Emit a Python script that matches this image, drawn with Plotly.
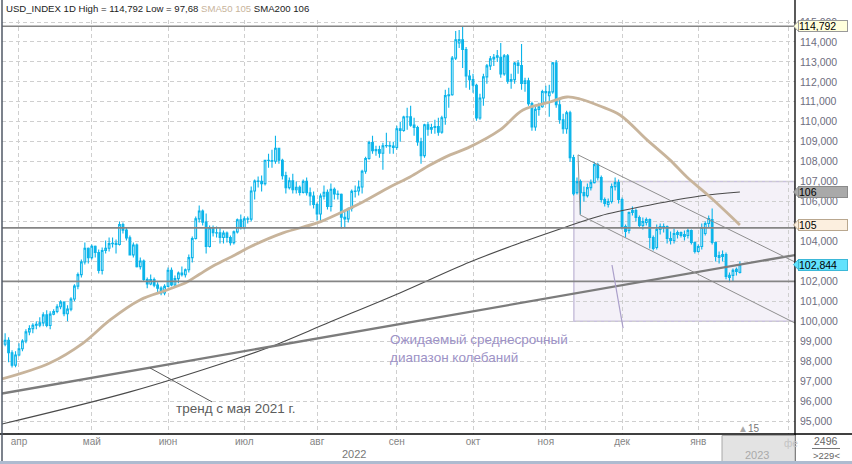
import plotly.graph_objects as go
import pandas as pd

# ---------------- data (USD_INDEX, daily) ----------------
open_ = [
    98.85, 99.05, 98.42, 97.80,
    98.31, 98.62, 99.01, 99.47, 99.63, 99.85, 99.80, 99.92, 100.32, 99.79, 100.36, 100.49, 100.73, 100.96, 100.38, 100.61, 101.12, 101.76, 102.34, 102.97, 103.66,
    103.19, 103.76, 103.45, 102.55, 103.55, 103.66, 103.89, 103.91, 103.85, 104.85, 104.57, 104.18, 103.33, 103.82, 102.74, 103.02, 102.09, 101.87, 102.09, 101.81, 101.66, 101.42,
    101.75, 102.56, 101.82, 102.14, 102.42, 102.33, 102.58, 103.19, 104.15, 105.13, 105.53, 104.97, 103.75, 104.68, 104.44, 104.43, 104.20, 104.42, 104.20, 103.94, 104.48, 105.09,
    104.69, 105.13, 105.12, 106.53, 107.03, 107.01, 106.90, 108.07, 108.06, 108.02, 108.67, 108.07, 107.30, 106.70, 107.04, 106.59, 106.72, 106.46, 107.01, 106.44, 106.28,
    105.85, 105.38, 106.27, 106.47, 105.75, 106.62, 106.38, 106.36, 105.21, 105.13, 105.65, 106.51, 106.53, 106.73, 107.52, 108.16, 108.96, 108.55, 108.61, 108.42, 108.80, 108.81, 108.78,
    108.71, 109.65, 109.56, 110.24, 110.25, 109.83, 109.71, 108.99, 108.30, 109.85, 109.63, 109.71, 109.76, 109.48, 110.20, 111.31, 111.35, 113.19, 113.95, 114.11, 113.62, 112.29,
    112.11, 111.83, 110.19, 111.19, 112.25, 112.80, 113.15, 113.30, 113.23, 112.40, 113.31, 112.03, 112.11, 112.94, 112.82, 111.92, 112.05, 110.91, 109.74, 110.62, 110.75,
    111.52, 111.30, 111.50, 112.95, 110.85, 110.10, 109.65, 110.45, 108.20, 106.45, 107.00, 106.45, 106.30, 106.70, 106.95, 107.85, 107.20, 106.10, 105.85, 106.00, 106.75, 106.95,
    106.10, 104.75, 104.55, 105.45, 105.55, 105.20, 104.80, 104.95, 105.10, 104.20, 103.70, 104.60, 104.70, 104.75, 104.15, 104.05, 104.35, 104.45, 104.25, 104.30, 104.55, 103.95,
    103.50, 103.75, 104.40, 104.90, 105.10, 103.95, 103.20, 103.25, 103.35, 102.20, 102.30, 102.50, 102.45,
]
high = [
    99.40, 99.20, 98.55, 98.50,
    98.90, 99.10, 99.60, 99.80, 99.90, 100.00, 100.20, 100.45, 100.55, 100.50, 100.60, 100.85, 101.05, 101.00, 100.80, 101.20, 101.85, 102.45, 103.10, 103.95, 103.70,
    103.85, 103.80, 103.60, 103.70, 104.05, 104.20, 104.20, 104.10, 105.00, 104.95, 104.70, 104.30, 103.95, 103.90, 103.20, 103.10, 102.20, 102.35, 102.20, 101.95, 101.75, 101.85,
    102.70, 102.70, 102.30, 102.50, 102.75, 102.65, 103.35, 104.25, 105.25, 105.80, 105.60, 105.40, 104.80, 104.80, 104.75, 104.70, 104.55, 104.50, 104.30, 104.55, 105.15, 105.35,
    105.25, 105.25, 106.75, 107.10, 107.25, 107.30, 108.10, 108.40, 108.60, 109.30, 108.70, 108.15, 107.50, 107.20, 107.40, 107.00, 106.80, 107.10, 107.20, 106.70, 106.50,
    105.95, 106.40, 106.80, 106.60, 106.90, 106.70, 106.55, 106.40, 105.50, 105.70, 106.60, 106.80, 107.05, 107.60, 108.25, 109.05, 109.30, 108.80, 108.80, 108.95, 109.45, 109.00, 109.00,
    109.80, 110.00, 110.30, 110.70, 110.80, 110.20, 109.80, 109.20, 109.90, 110.00, 109.90, 110.10, 110.20, 110.30, 111.60, 111.70, 113.30, 114.55, 114.60, 114.79, 113.75, 112.60,
    112.40, 111.90, 111.40, 112.40, 112.90, 113.30, 113.40, 113.60, 113.95, 113.40, 113.40, 112.40, 113.00, 113.10, 113.90, 112.20, 112.20, 111.00, 110.80, 110.95, 111.60,
    111.80, 111.85, 113.00, 113.10, 111.10, 110.40, 110.55, 110.55, 108.35, 107.20, 107.10, 106.75, 106.90, 107.10, 108.00, 107.95, 107.30, 106.20, 106.15, 106.90, 107.20, 107.10,
    106.20, 104.85, 105.50, 105.75, 105.65, 105.30, 105.20, 105.20, 105.15, 104.30, 104.85, 104.90, 104.90, 104.80, 104.50, 104.65, 104.55, 104.50, 104.55, 104.65, 104.60, 104.00,
    103.85, 104.90, 105.00, 105.30, 105.65, 104.00, 103.50, 103.55, 103.45, 102.45, 102.65, 102.70, 103.00,
]
low = [
    98.75, 97.95, 97.68, 97.70,
    98.25, 98.50, 98.90, 99.30, 99.40, 99.60, 99.70, 99.75, 99.70, 99.60, 100.30, 100.40, 100.60, 100.25, 100.00, 100.50, 101.00, 101.60, 102.20, 102.85, 102.90,
    103.10, 103.20, 102.40, 102.35, 103.40, 103.50, 103.70, 103.40, 103.80, 104.40, 104.05, 103.30, 103.20, 102.70, 102.60, 102.00, 101.65, 101.80, 101.70, 101.40, 101.30, 101.30,
    101.70, 101.75, 101.70, 101.90, 102.25, 102.20, 102.45, 102.95, 104.10, 104.95, 104.80, 103.40, 103.70, 104.25, 104.20, 103.90, 103.90, 103.95, 103.80, 103.85, 104.40, 104.60,
    104.60, 104.90, 105.00, 106.10, 106.70, 106.50, 106.80, 107.70, 107.70, 107.90, 107.90, 107.10, 106.40, 106.60, 106.40, 106.40, 106.30, 106.40, 106.30, 105.80, 105.65,
    105.05, 105.00, 106.10, 105.60, 105.50, 106.10, 106.10, 104.65, 104.70, 104.95, 105.50, 106.20, 106.30, 106.40, 107.40, 108.10, 108.40, 108.30, 108.20, 107.60, 108.70, 108.40, 108.40,
    108.60, 109.00, 109.50, 109.60, 109.75, 109.30, 108.80, 107.90, 108.20, 109.30, 109.40, 109.40, 109.30, 109.40, 109.85, 110.70, 111.30, 113.10, 113.70, 112.70, 111.70, 111.60,
    111.45, 110.05, 110.10, 110.80, 111.90, 112.60, 112.80, 113.00, 112.20, 112.30, 111.90, 111.65, 111.90, 112.40, 111.60, 111.50, 110.80, 109.55, 109.55, 110.30, 110.70,
    110.90, 110.25, 111.40, 110.70, 109.90, 109.40, 109.40, 108.00, 106.30, 106.35, 105.35, 106.00, 106.20, 106.55, 106.90, 107.05, 105.95, 105.75, 105.70, 105.90, 106.55, 105.90,
    104.60, 104.20, 104.40, 105.30, 105.00, 104.70, 104.60, 104.80, 103.65, 103.55, 103.60, 104.35, 104.45, 103.90, 103.85, 103.90, 104.15, 104.20, 104.05, 104.15, 103.85, 103.40,
    103.45, 103.60, 104.30, 104.70, 103.85, 103.00, 102.90, 103.00, 102.10, 101.95, 102.00, 102.30, 102.40,
]
close = [
    99.05, 98.42, 97.80, 98.31,
    98.62, 99.01, 99.47, 99.63, 99.80, 99.80, 99.92, 100.32, 99.79, 100.36, 100.49, 100.73, 100.96, 100.38, 100.61, 101.12, 101.76, 102.34, 102.97, 103.66, 103.19,
    103.76, 103.45, 102.55, 103.55, 103.66, 103.89, 103.91, 103.85, 104.85, 104.57, 104.18, 103.33, 103.82, 102.74, 103.02, 102.09, 101.87, 102.09, 101.81, 101.66, 101.42, 101.75,
    102.56, 101.82, 102.14, 102.42, 102.33, 102.58, 103.19, 104.15, 105.13, 105.53, 104.97, 103.75, 104.68, 104.44, 104.43, 104.20, 104.42, 104.20, 103.94, 104.48, 105.09, 104.69,
    105.13, 105.12, 106.53, 107.03, 107.01, 106.90, 108.07, 108.06, 108.02, 108.67, 108.07, 107.30, 106.70, 107.04, 106.59, 106.72, 106.46, 107.01, 106.44, 106.28, 105.85,
    105.38, 106.27, 106.47, 105.75, 106.62, 106.38, 106.36, 105.21, 105.13, 105.65, 106.51, 106.53, 106.73, 107.52, 108.16, 108.96, 108.55, 108.61, 108.42, 108.80, 108.81, 108.78, 108.71,
    109.65, 109.56, 110.24, 110.25, 109.83, 109.71, 108.99, 108.30, 109.85, 109.63, 109.71, 109.76, 109.48, 110.20, 111.31, 111.35, 113.19, 114.11, 114.12, 113.62, 112.29, 112.11,
    111.83, 110.19, 111.19, 112.25, 112.80, 113.15, 113.23, 113.23, 112.40, 113.31, 112.03, 112.11, 112.94, 112.82, 111.92, 112.05, 110.91, 109.74, 110.62, 110.75, 111.52,
    111.45, 111.50, 112.95, 110.85, 110.10, 109.65, 110.45, 108.20, 106.40, 107.00, 106.45, 106.30, 106.70, 106.95, 107.85, 107.20, 106.10, 105.90, 106.00, 106.75, 106.95, 106.10,
    104.75, 104.50, 105.45, 105.55, 105.20, 104.80, 105.00, 105.10, 104.20, 103.65, 104.60, 104.75, 104.75, 104.15, 104.05, 104.40, 104.45, 104.30, 104.35, 104.55, 103.95, 103.50,
    103.75, 104.70, 104.90, 105.15, 103.95, 103.25, 103.30, 103.35, 102.25, 102.30, 102.55, 102.60, 102.84,
]

# moving averages (bar number, value)
sma50_bar = [-0.9, 12.9, 22.5, 30.3, 38.9, 46.7, 52.5, 56.2, 60.5, 66.3, 70.6, 80.2, 90.0, 96.6, 103.2,
             111.0, 116.8, 122.6, 128.4, 133.5, 142.8, 149.4, 157.2, 162.1, 165.9, 171.6, 177.4,
             185.2, 191.8, 196.7, 203.4, 212.0]
sma50_val = [97.11, 97.91, 98.91, 100.07, 101.07, 101.57, 101.97, 102.37, 102.82, 103.32, 103.72, 104.43,
             104.93, 105.43, 105.98, 106.73, 107.23, 107.83, 108.34, 108.69, 109.59, 110.59, 110.99,
             111.24, 111.14, 110.79, 110.34, 109.09, 108.09, 107.23, 106.23, 104.83]
sma200_bar = [-0.9, 36.0, 65.7, 76.4, 93.7, 113.9, 134.1, 148.5, 160.1, 171.6, 186.1, 200.5, 212.0]
sma200_val = [94.85, 96.46, 98.06, 98.71, 99.96, 101.42, 102.97, 103.92, 104.63, 105.28, 105.83, 106.28, 106.48]

# drawing objects (bar number / price)
level_prices = [114.79, 104.68, 102.0]
trend_bar, trend_price = [-0.9, 227.9], [96.38, 103.32]
chan_up_bar, chan_up_price = [165.3, 227.9], [108.34, 102.97]
chan_lo_bar, chan_lo_price = [165.9, 227.9], [105.33, 99.91]
box_bar0, box_low, box_high = 164.1, 100.0, 107.0
box_ptr_bar, box_ptr_price = [175.1, 178.3], [102.82, 99.66]
trend_ptr_bar, trend_ptr_price = [41.8, 59.7], [97.66, 95.96]

month_labels = ["апр", "май", "июн", "июл", "авг", "сен", "окт", "ноя", "дек", "янв"]
price_ticks = list(range(95, 116))
hidden_price_labels = [103, 105]
price_tick_text = ["" if v in hidden_price_labels else f"{v},000" for v in price_ticks]

# ---------------- build ----------------
n = min(len(open_), len(high), len(low), len(close))
dates = pd.bdate_range("2022-03-28", periods=n)
bars = list(range(n))
month_starts = [pd.Timestamp(2022, m, 1) for m in range(4, 13)] + [pd.Timestamp(2023, 1, 1)]
tick_idx = [int((dates >= ms).argmax()) for ms in month_starts]

X0, X1 = -0.9, 227.9
Y0, Y1 = 94.35, 115.10
FONT = "Liberation Sans, Arial, sans-serif"
CYAN = "#0ab4ea"


def pxx(px):
    return (px - 2) / 793.0


def pxy(py):
    return (434 - py) / 414.0


fig = go.Figure()
fig.add_trace(go.Candlestick(
    x=bars, open=open_[:n], high=high[:n], low=low[:n], close=close[:n],
    increasing=dict(line=dict(color=CYAN, width=1.1), fillcolor="white"),
    decreasing=dict(line=dict(color=CYAN, width=1.1), fillcolor=CYAN),
    whiskerwidth=0, hoverinfo="skip", showlegend=False))
fig.add_trace(go.Scatter(x=sma200_bar, y=sma200_val, mode="lines", line=dict(color="#4a4a4a", width=1.1, shape="spline"),
                         hoverinfo="skip", showlegend=False))
fig.add_trace(go.Scatter(x=sma50_bar, y=sma50_val, mode="lines", line=dict(color="#c8b49b", width=2.8, shape="spline"),
                         hoverinfo="skip", showlegend=False))

shapes = []
shapes.append(dict(type="rect", xref="x", yref="y", x0=box_bar0, x1=X1, y0=box_low, y1=box_high,
                   fillcolor="#f4f1f8", line=dict(color="#c9c1dc", width=1.5), layer="below"))
for p in level_prices:
    shapes.append(dict(type="line", xref="x", yref="y", x0=X0, x1=X1, y0=p, y1=p,
                       line=dict(color="#858585", width=1.6), layer="above"))
shapes.append(dict(type="line", xref="x", yref="y", x0=trend_bar[0], x1=trend_bar[1], y0=trend_price[0], y1=trend_price[1],
                   line=dict(color="#7c7c7c", width=2.3), layer="above"))
shapes.append(dict(type="line", xref="x", yref="y", x0=chan_up_bar[0], x1=chan_up_bar[1], y0=chan_up_price[0], y1=chan_up_price[1],
                   line=dict(color="#8e8e8e", width=1), layer="above"))
shapes.append(dict(type="line", xref="x", yref="y", x0=chan_lo_bar[0], x1=chan_lo_bar[1], y0=chan_lo_price[0], y1=chan_lo_price[1],
                   line=dict(color="#8e8e8e", width=1), layer="above"))
shapes.append(dict(type="line", xref="x", yref="y", x0=chan_up_bar[0], x1=chan_lo_bar[0], y0=chan_up_price[0], y1=chan_lo_price[0],
                   line=dict(color="#8e8e8e", width=1), layer="above"))
shapes.append(dict(type="line", xref="x", yref="y", x0=box_ptr_bar[0], x1=box_ptr_bar[1], y0=box_ptr_price[0], y1=box_ptr_price[1],
                   line=dict(color="#aa9fca", width=1.2), layer="above"))
shapes.append(dict(type="line", xref="x", yref="y", x0=trend_ptr_bar[0], x1=trend_ptr_bar[1], y0=trend_ptr_price[0], y1=trend_ptr_price[1],
                   line=dict(color="#5a5a5a", width=1), layer="above"))

# frame lines
shapes.append(dict(type="line", xref="paper", yref="paper", x0=1, x1=1, y0=pxy(464), y1=pxy(0),
                   line=dict(color="black", width=1.3), layer="above"))
shapes.append(dict(type="line", xref="paper", yref="paper", x0=pxx(0), x1=pxx(852), y0=0, y1=0,
                   line=dict(color="black", width=1.3), layer="above"))
shapes.append(dict(type="line", xref="paper", yref="paper", x0=pxx(2), x1=pxx(2), y0=pxy(462), y1=pxy(0),
                   line=dict(color="#505866", width=1.5), layer="above"))
shapes.append(dict(type="rect", xref="paper", yref="paper", x0=pxx(722), x1=1, y0=pxy(464), y1=pxy(435.5),
                   fillcolor="#e3e3e3", line=dict(color="#a8a8a8", width=1), layer="above"))
shapes.append(dict(type="rect", xref="paper", yref="paper", x0=pxx(0), x1=pxx(852), y0=pxy(464), y1=pxy(461),
                   fillcolor="#aebbd0", line=dict(width=0), layer="above"))
shapes.append(dict(type="line", xref="paper", yref="paper", x0=pxx(812), x1=pxx(840), y0=pxy(448.5), y1=pxy(448.5),
                   line=dict(color="#777", width=1), layer="above"))


def label_box(text, price, bg, border):
    d = 0.26
    shapes.append(dict(type="path", xref="paper", yref="y",
                       path=f"M {pxx(798.5)},{price + d} L {pxx(793.5)},{price} L {pxx(798.5)},{price - d} Z",
                       fillcolor=bg, line=dict(color=border, width=1), layer="above"))
    return dict(text=text, xref="paper", yref="y", x=pxx(798), y=price, xanchor="left", yanchor="middle",
                showarrow=False, width=48, height=10, align="left", bgcolor=bg, bordercolor=border,
                borderwidth=1, borderpad=0, font=dict(family=FONT, size=10.5, color="black"))


annotations = [
    label_box("114,792", level_prices[0], "#ffffdc", "#9a9a9a"),
    label_box("106", sma200_val[-1], "#a9a9a9", "#8a8a8a"),
    label_box("105", sma50_val[-1], "#fcefdf", "#b9a78f"),
    label_box("102,844", close[n - 1], "#62e2fc", "#3bb8d8"),
]

header = ("USD_INDEX 1D High = 114,792 Low = 97,68 "
          "<span style='color:#c8b49b'>SMA50 105</span> SMA200 106")
annotations.append(dict(text=header, xref="paper", yref="paper", x=pxx(4), y=pxy(8.5), xanchor="left", yanchor="middle",
                        showarrow=False, font=dict(family=FONT, size=9.6, color="#222")))
annotations.append(dict(text="Ожидаемый среднесрочный<br>диапазон колебаний", xref="x", yref="y",
                        x=4 + (388 - 19) / 3.466, y=98.65, xanchor="left", yanchor="middle", align="left",
                        showarrow=False, font=dict(family=FONT, size=13.5, color="#9d92c6")))
annotations.append(dict(text="тренд с мая 2021 г.", xref="x", yref="y",
                        x=4 + (174 - 19) / 3.466, y=95.65, xanchor="left", yanchor="middle",
                        showarrow=False, font=dict(family=FONT, size=13.5, color="#5c5c5c")))
annotations.append(dict(text="2022", xref="paper", yref="paper", x=pxx(354), y=pxy(454), xanchor="center", yanchor="middle",
                        showarrow=False, font=dict(family=FONT, size=11, color="#777")))
annotations.append(dict(text="2023", xref="paper", yref="paper", x=pxx(757), y=pxy(455), xanchor="center", yanchor="middle",
                        showarrow=False, font=dict(family=FONT, size=11, color="#aaa")))
annotations.append(dict(text="фе", xref="paper", yref="paper", x=pxx(782), y=pxy(443), xanchor="left", yanchor="middle",
                        showarrow=False, font=dict(family=FONT, size=10, color="#c4c4c4")))
annotations.append(dict(text="<span style='color:#a8a8a8'>▲</span>15", xref="paper", yref="paper", x=pxx(736), y=pxy(428),
                        xanchor="left", yanchor="middle", showarrow=False, font=dict(family=FONT, size=10, color="#777")))
annotations.append(dict(text="2496", xref="paper", yref="paper", x=pxx(826), y=pxy(441), xanchor="center", yanchor="middle",
                        showarrow=False, font=dict(family=FONT, size=10.5, color="#666")))
annotations.append(dict(text="&gt;229&lt;", xref="paper", yref="paper", x=pxx(826), y=pxy(455.5), xanchor="center", yanchor="middle",
                        showarrow=False, font=dict(family=FONT, size=9.5, color="#666")))

fig.update_layout(
    width=852, height=464,
    margin=dict(l=2, r=57, t=20, b=30),
    paper_bgcolor="white", plot_bgcolor="white",
    showlegend=False, hovermode=False,
    shapes=shapes, annotations=annotations,
    font=dict(family=FONT),
    xaxis=dict(range=[X0, X1], tickmode="array", tickvals=tick_idx + [225.9], ticktext=month_labels + [""],
               showgrid=True, gridcolor="#cfcfcf", griddash="4px,3px", gridwidth=1,
               zeroline=False, showline=False, ticks="", rangeslider=dict(visible=False),
               tickfont=dict(family=FONT, size=10, color="#858585"), fixedrange=True, automargin=False),
    yaxis=dict(range=[Y0, Y1], side="right", tickmode="array", tickvals=price_ticks, ticktext=price_tick_text,
               showgrid=True, gridcolor="#cfcfcf", griddash="4px,3px", gridwidth=1,
               zeroline=False, showline=False, ticks="", ticklabelstandoff=4,
               tickfont=dict(family=FONT, size=10.5, color="#6e6e7e"), fixedrange=True, automargin=False),
)

fig.write_html("out.html", config={"displayModeBar": False},
               post_script="document.body.style.margin='0px';document.body.style.overflow='hidden';")
